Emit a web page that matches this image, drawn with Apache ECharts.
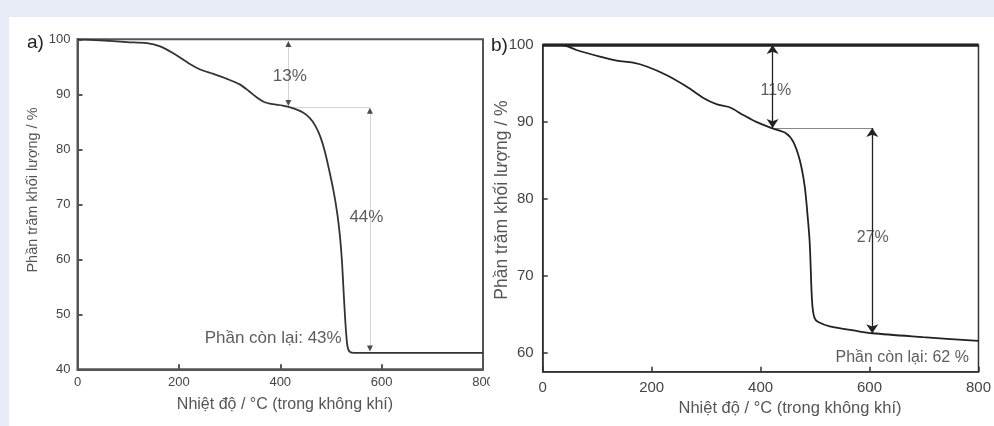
<!DOCTYPE html>
<html>
<head>
<meta charset="utf-8">
<script src="https://cdn.jsdelivr.net/npm/echarts@6/dist/echarts.min.js"></script>
<style>
html,body{margin:0;padding:0;background:#e7ebf6;width:994px;height:426px;overflow:hidden;}
#panel{position:absolute;left:9px;top:17px;width:985px;height:409px;background:#fff;}
#chart{position:absolute;left:0;top:0;width:994px;height:426px;}
</style>
</head>
<body>
<div id="panel"></div>
<div id="chart"></div>
<script>
// Panel a) TGA curve (temperature °C, mass %)
const tempA = [0, 44, 97, 137, 163, 189, 215, 242, 268, 295, 320, 338, 354, 368, 385, 405, 426, 445, 458, 469, 479, 488, 497, 506, 513, 518, 521.5, 524.5, 527.5, 530.5, 533, 537, 546, 600, 700, 800];
const massA = [100, 99.8, 99.5, 99.3, 98.7, 97.45, 95.9, 94.5, 93.7, 92.8, 91.8, 90.6, 89.4, 88.6, 88.2, 87.95, 87.45, 86.7, 85.7, 84.3, 82.3, 79.6, 76.0, 72.0, 68.0, 64.0, 60.0, 55.0, 50.0, 46.0, 44.0, 43.2, 43.0, 43.0, 43.0, 43.0];
// Panel b) TGA curve
const tempB = [0, 20, 35, 62, 105, 136, 166, 191, 227, 264, 295, 319, 343, 368, 392, 422, 447, 460, 472, 481, 487, 490, 492, 493.5, 495.5, 499, 505, 527, 576, 605, 698, 800];
const massB = [100, 100, 100, 99.35, 98.5, 97.96, 97.7, 97.2, 96.1, 94.6, 93.1, 92.3, 91.9, 90.9, 90.0, 89.15, 88.5, 87.4, 85.0, 81.6, 77.2, 74.5, 71.0, 68.0, 65.8, 64.5, 64.0, 63.4, 62.8, 62.5, 62.0, 61.5];

const xTicks = [0, 200, 400, 600, 800];
const yTicksA = [40, 50, 60, 70, 80, 90, 100];
const yTicksB = [60, 70, 80, 90, 100];

// annotations: [text, x, y]
const labelsA = [["13%", 419, 93.3], ["44%", 570, 67.7], ["Phần còn lại: 43%", 386, 45.6]];
const labelsB = [["11%", 428, 94.1], ["27%", 606, 75.0], ["Phần còn lại: 62 %", 660, 59.4]];
// arrowheads in a): [x, y]
const upHeadsA = [[416, 99.15], [577, 87.0]];
const downHeadsA = [[416, 88.4], [577, 43.8]];
// guide lines in a)
const guidesA = [[[416, 99.15], [416, 88.4]], [[426, 87.6], [577, 87.6]], [[577, 87.0], [577, 43.8]]];
// double arrows in b)
const arrowsB = [[[422, 100], [422, 89.2]], [[605, 89.2], [605, 62.5]]];
const guidesB = [[[422, 89.2], [605, 89.2]]];
const topLineB = [[[0, 100], [800, 100]]];

const FONT = "'Liberation Sans', Arial, sans-serif";
const zipXY = (xs, ys) => xs.map((x, i) => [x, ys[i]]);

const chart = echarts.init(document.getElementById('chart'), null, {renderer: 'canvas'});

function xAxisCfg(gi, fs, color, lw, margin) {
  return {
    type: 'value', gridIndex: gi, min: 0, max: 800, interval: 200,
    axisLine: {show: true, lineStyle: {color: color, width: lw}},
    axisTick: {show: true, inside: true, length: 5, lineStyle: {color: color, width: lw}},
    axisLabel: {color: '#444', fontSize: fs, fontFamily: FONT, margin: margin},
    splitLine: {show: false}
  };
}

const option = {
  animation: false,
  textStyle: {fontFamily: FONT},
  grid: [
    {left: 77.5, top: 39.3, width: 405.5, height: 330, show: true, borderColor: '#555', borderWidth: 2, backgroundColor: 'transparent'},
    {left: 542.7, top: 45, width: 436.3, height: 326.7, show: true, borderColor: '#333', borderWidth: 1.5, backgroundColor: 'transparent'}
  ],
  xAxis: [
    xAxisCfg(0, 13, '#555', 2, 7),
    xAxisCfg(1, 15, '#333', 1.5, 9)
  ],
  yAxis: [
    {
      type: 'value', gridIndex: 0, min: 40, max: 100, interval: 10,
      axisLine: {show: true, lineStyle: {color: '#555', width: 2}},
      axisTick: {show: true, inside: true, length: 5, lineStyle: {color: '#555', width: 2}},
      axisLabel: {color: '#444', fontSize: 13, fontFamily: FONT, margin: 7},
      splitLine: {show: false}
    },
    {
      type: 'value', gridIndex: 1, min: 57.5, max: 100,
      axisLine: {show: true, lineStyle: {color: '#333', width: 1.5}},
      axisTick: {show: true, inside: true, length: 5, customValues: yTicksB, lineStyle: {color: '#333', width: 1.5}},
      axisLabel: {color: '#444', fontSize: 15, fontFamily: FONT, margin: 9, customValues: yTicksB},
      splitLine: {show: false}
    }
  ],
  series: [
    {
      type: 'line', xAxisIndex: 0, yAxisIndex: 0, data: zipXY(tempA, massA),
      showSymbol: false, smooth: 0.3,
      lineStyle: {color: '#333', width: 1.8}, z: 5
    },
    {
      type: 'line', xAxisIndex: 1, yAxisIndex: 1, data: zipXY(tempB, massB),
      showSymbol: false, smooth: 0.3,
      lineStyle: {color: '#222', width: 1.8}, z: 5
    },
    {
      type: 'lines', coordinateSystem: 'cartesian2d', xAxisIndex: 0, yAxisIndex: 0,
      data: guidesA.map(c => ({coords: c})),
      lineStyle: {color: '#d4d4d4', width: 1, opacity: 1}, symbol: 'none', z: 3
    },
    {
      type: 'scatter', xAxisIndex: 0, yAxisIndex: 0, data: upHeadsA,
      symbol: 'triangle', symbolSize: [6, 6], itemStyle: {color: '#222'}, z: 6
    },
    {
      type: 'scatter', xAxisIndex: 0, yAxisIndex: 0, data: downHeadsA,
      symbol: 'triangle', symbolRotate: 180, symbolSize: [6, 6], itemStyle: {color: '#222'}, z: 6
    },
    {
      type: 'scatter', xAxisIndex: 0, yAxisIndex: 0, symbolSize: 0,
      data: labelsA.map(l => ({value: [l[1], l[2]], name: l[0]})),
      label: {show: true, position: 'inside', formatter: p => p.name, color: '#333', fontSize: 17, fontFamily: FONT},
      z: 7
    },
    {
      type: 'lines', coordinateSystem: 'cartesian2d', xAxisIndex: 1, yAxisIndex: 1,
      data: guidesB.map(c => ({coords: c})),
      lineStyle: {color: '#888', width: 1, opacity: 1}, symbol: 'none', z: 3
    },
    {
      type: 'lines', coordinateSystem: 'cartesian2d', xAxisIndex: 1, yAxisIndex: 1,
      data: topLineB.map(c => ({coords: c})),
      lineStyle: {color: '#222', width: 3.5, opacity: 1}, symbol: 'none', z: 4
    },
    {
      type: 'lines', coordinateSystem: 'cartesian2d', xAxisIndex: 1, yAxisIndex: 1,
      data: arrowsB.map(c => ({coords: c})),
      lineStyle: {color: '#222', width: 1.3, opacity: 1},
      symbol: ['arrow', 'arrow'], symbolSize: 9, z: 6
    },
    {
      type: 'scatter', xAxisIndex: 1, yAxisIndex: 1, symbolSize: 0,
      data: labelsB.map(l => ({value: [l[1], l[2]], name: l[0]})),
      label: {show: true, position: 'inside', formatter: p => p.name, color: '#333', fontSize: 16, fontFamily: FONT},
      z: 7
    }
  ],
  graphic: [
    {type: 'text', x: 27, y: 43, style: {text: 'a)', font: '19px ' + FONT, fill: '#222', verticalAlign: 'middle'}},
    {type: 'text', x: 491, y: 46, style: {text: 'b)', font: '19px ' + FONT, fill: '#222', verticalAlign: 'middle'}},
    {type: 'text', x: 33, y: 190, rotation: Math.PI / 2, style: {text: 'Phần trăm khối lượng / %', font: '14.5px ' + FONT, fill: '#555', align: 'center', verticalAlign: 'middle'}},
    {type: 'text', x: 502, y: 200, rotation: Math.PI / 2, style: {text: 'Phần trăm khối lượng / %', font: '17.5px ' + FONT, fill: '#555', align: 'center', verticalAlign: 'middle'}},
    {type: 'text', x: 285, y: 405, style: {text: 'Nhiệt độ / °C (trong không khí)', font: '16px ' + FONT, fill: '#555', align: 'center', verticalAlign: 'middle'}},
    {type: 'text', x: 790, y: 408, style: {text: 'Nhiệt độ / °C (trong không khí)', font: '16.5px ' + FONT, fill: '#555', align: 'center', verticalAlign: 'middle'}},
    {type: 'rect', x: 490, y: 372, shape: {width: 10, height: 20}, style: {fill: '#fff'}, z: 100}
  ]
};
chart.setOption(option);
</script>
</body>
</html>
